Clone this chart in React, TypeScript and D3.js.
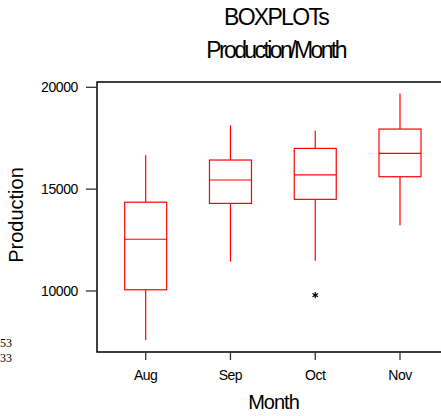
import React from "react";
import * as d3 from "d3";

const months = ["Aug", "Sep", "Oct", "Nov"];
const lowWhisker = [7600, 11440, 11490, 13230];
const q1 = [10060, 14300, 14500, 15610];
const median = [12540, 15450, 15700, 16760];
const q3 = [14360, 16430, 17000, 17950];
const highWhisker = [16660, 18130, 17870, 19690];
const outlierMonth = ["Oct"];
const outlierValue = [9800];
const yTicks = [10000, 15000, 20000];

export default function App() {
  const W = 441, H = 416;
  const left = 97, top = 82, bottom = 352, right = 446;
  const x = d3.scalePoint<string>().domain(months).range([145.7, 400]);
  const y = d3.scaleLinear().domain([10000, 20000]).range([291, 87.3]);
  const bw = 42;
  const red = "#ff0000";
  const star = d3.symbol().type(d3.symbolAsterisk).size(28)() as string;
  const font = "'Liberation Sans', Arial, sans-serif";

  return (
    <svg width={W} height={H} style={{ position: "absolute", left: 0, top: 0, background: "#fff" }}>
      <rect x={0} y={0} width={W} height={H} fill="#fff" />
      <text x={276} y={25.3} textAnchor="middle" fontFamily={font} fontSize={23} letterSpacing={-1.7}>BOXPLOTs</text>
      <text x={275.5} y={58.3} textAnchor="middle" fontFamily={font} fontSize={23} letterSpacing={-2.6}>Production/Month</text>

      {/* frame */}
      <path d={`M${right},${top}H${left}V${bottom}H${right}`} fill="none" stroke="#000" strokeWidth={1.5} />

      {/* y axis ticks */}
      {yTicks.map((t) => (
        <g key={t}>
          <line x1={86} x2={left} y1={y(t)} y2={y(t)} stroke="#333" strokeWidth={1.3} />
          <text x={78} y={y(t) + 5} textAnchor="end" fontFamily={font} fontSize={14} letterSpacing={-0.4}>{t}</text>
        </g>
      ))}
      {/* x axis ticks */}
      {months.map((m) => (
        <g key={m}>
          <line x1={x(m)} x2={x(m)} y1={bottom} y2={360} stroke="#333" strokeWidth={1.3} />
          <text x={x(m)} y={380} textAnchor="middle" fontFamily={font} fontSize={14} letterSpacing={-0.5}>{m}</text>
        </g>
      ))}

      <text x={273.5} y={409} textAnchor="middle" fontFamily={font} fontSize={20} letterSpacing={-1}>Month</text>
      <text transform={`translate(23,215) rotate(-90)`} textAnchor="middle" fontFamily={font} fontSize={20}>Production</text>

      {/* boxes */}
      {months.map((m, i) => {
        const cx = x(m) as number;
        return (
          <g key={m} stroke={red} fill="none" strokeWidth={1.2}>
            <line x1={cx} x2={cx} y1={y(highWhisker[i])} y2={y(q3[i])} />
            <line x1={cx} x2={cx} y1={y(q1[i])} y2={y(lowWhisker[i])} />
            <rect x={cx - bw / 2} y={y(q3[i])} width={bw} height={y(q1[i]) - y(q3[i])} />
            <line x1={cx - bw / 2} x2={cx + bw / 2} y1={y(median[i])} y2={y(median[i])} />
          </g>
        );
      })}

      {/* outliers */}
      {outlierMonth.map((m, i) => (
        <path key={i} d={star} transform={`translate(${x(m)},${y(outlierValue[i])})`} stroke="#000" strokeWidth={1.2} fill="none" />
      ))}

      <text x={0} y={347} textAnchor="start" fontFamily="'Liberation Serif', 'Times New Roman', serif" fontSize={12}>53</text>
      <text x={0} y={362} textAnchor="start" fontFamily="'Liberation Serif', 'Times New Roman', serif" fontSize={12}>33</text>
    </svg>
  );
}
